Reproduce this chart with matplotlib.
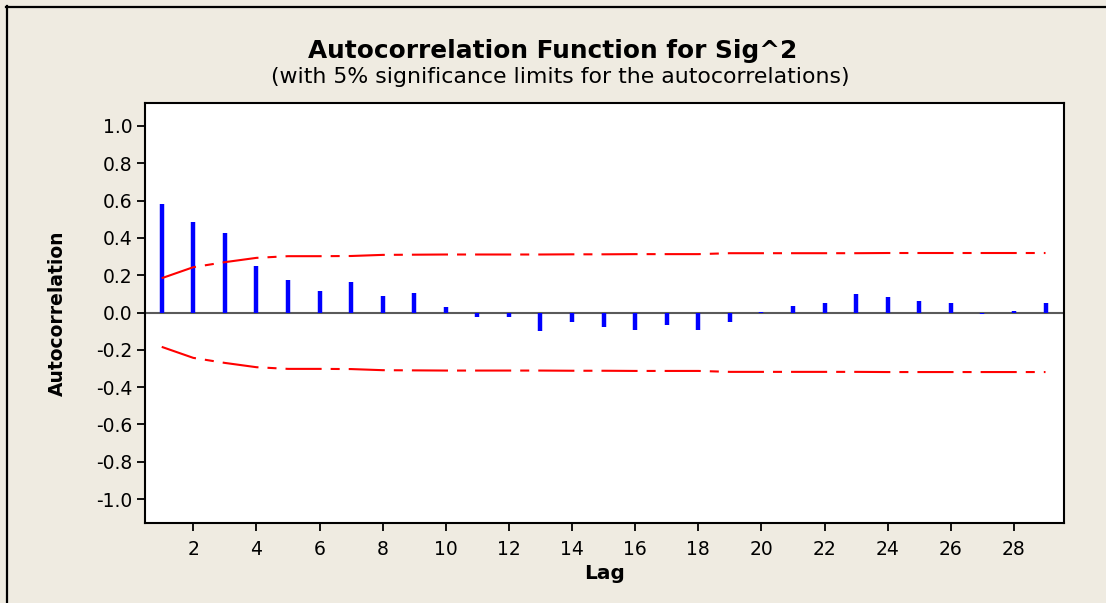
import matplotlib
matplotlib.use("Agg")
import matplotlib.pyplot as plt
from matplotlib.lines import Line2D

# ACF values for Sig^2
lags = list(range(1, 30))
acf = [0.584, 0.487, 0.428, 0.252, 0.177, 0.118, 0.166, 0.091, 0.107, 0.032,
       -0.023, -0.023, -0.100, -0.050, -0.075, -0.091, -0.068, -0.091, -0.052, 0.004,
       0.034, 0.050, 0.100, 0.082, 0.060, 0.050, -0.007, 0.008, 0.050]
# 5% significance limits (upper), lower is the mirror
upper = [0.184, 0.243, 0.270, 0.293, 0.302, 0.302, 0.303, 0.309, 0.310, 0.311,
         0.311, 0.311, 0.311, 0.312, 0.312, 0.313, 0.313, 0.313, 0.318, 0.318,
         0.318, 0.318, 0.318, 0.319, 0.319, 0.319, 0.319, 0.319, 0.319]
lower = [-u for u in upper]
yticks = [1.0, 0.8, 0.6, 0.4, 0.2, 0.0, -0.2, -0.4, -0.6, -0.8, -1.0]
xticks = list(range(2, 30, 2))

bg = '#EFEBE1'
plt.rcParams['lines.scale_dashes'] = False

fig = plt.figure(figsize=(11.06, 6.03), dpi=100, facecolor=bg)
ax = fig.add_axes([145/1106, 1-523/603, (1063.5-145)/1106, (523-103)/603])
ax.set_facecolor('white')

ax.axhline(0, color='#5a5a5a', lw=1.5, zorder=2)
ax.vlines(lags, 0, acf, colors='#0000FF', lw=3.2, zorder=3)
ls = (0, (26, 6.5, 6.5, 6.5))
ax.plot(lags, upper, color='#FF0000', lw=1.5, linestyle=ls, zorder=4)
ax.plot(lags, lower, color='#FF0000', lw=1.5, linestyle=ls, zorder=4)

ax.set_xlim(0.47, 29.57)
ax.set_ylim(-1.128, 1.123)
ax.set_yticks(yticks)
ax.set_yticklabels(['%.1f' % v for v in yticks])
ax.set_xticks(xticks)

for s in ax.spines.values():
    s.set_linewidth(1.5)
    s.set_color('black')
ax.tick_params(axis='both', direction='out', length=6, width=1.3, labelsize=13.5, colors='black')
ax.tick_params(axis='y', pad=3)
ax.tick_params(axis='x', pad=6)

ax.set_ylabel('Autocorrelation', fontsize=13.5, fontweight='bold', labelpad=21)
ax.set_xlabel('Lag', fontsize=14.5, fontweight='bold', labelpad=4)

fig.text(0.5, 1-57.7/603, 'Autocorrelation Function for Sig^2', ha='center', va='baseline',
         fontsize=17.8, fontweight='bold')
fig.text(0.507, 1-83/603, '(with 5% significance limits for the autocorrelations)',
         ha='center', va='baseline', fontsize=15.8)

# outer frame lines (top and left only, like the screenshot)
fig.add_artist(Line2D([6/1106, 1], [1-6.5/603, 1-6.5/603], transform=fig.transFigure, color='black', lw=1.6))
fig.add_artist(Line2D([6.5/1106, 6.5/1106], [0, 1-6/603], transform=fig.transFigure, color='black', lw=1.6))

fig.savefig('out.png', dpi=100, facecolor=bg)
